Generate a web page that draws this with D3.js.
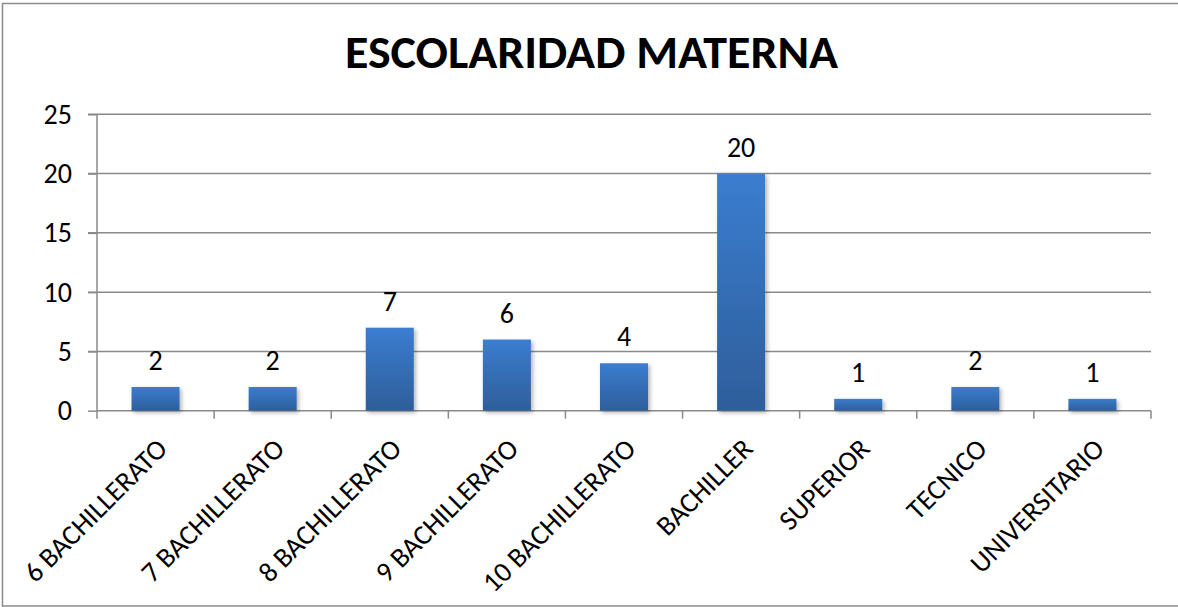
<!DOCTYPE html>
<html>
<head>
<meta charset="utf-8">
<script src="https://cdn.jsdelivr.net/npm/d3@7"></script>
<style>
  body { margin: 0; background: #fff; }
  svg { display: block; font-family: Carlito, Calibri, Lato, sans-serif; }
</style>
</head>
<body>
<svg id="graph"></svg>
<script>
const categories = ['6 BACHILLERATO', '7 BACHILLERATO', '8 BACHILLERATO', '9 BACHILLERATO',
  '10 BACHILLERATO', 'BACHILLER', 'SUPERIOR', 'TECNICO', 'UNIVERSITARIO']
const values = [2, 2, 7, 6, 4, 20, 1, 2, 1]
const yTicks = [0, 5, 10, 15, 20, 25]
const title = 'ESCOLARIDAD MATERNA'

const width = 1178
const height = 607
const labelSize = 28

let svg = d3.select('#graph')
  .attr('width', width)
  .attr('height', height)

let defs = svg.append('defs')

let grad = defs.append('linearGradient')
  .attr('id', 'barFill')
  .attr('x1', 0).attr('y1', 0)
  .attr('x2', 0).attr('y2', 1)
grad.append('stop').attr('offset', '0%').attr('stop-color', '#3b7dd0')
grad.append('stop').attr('offset', '100%').attr('stop-color', '#2e5e9a')

let shadow = defs.append('filter')
  .attr('id', 'barShadow')
  .attr('x', '-20%').attr('y', '-20%')
  .attr('width', '150%').attr('height', '150%')
shadow.append('feDropShadow')
  .attr('dx', 2).attr('dy', 2)
  .attr('stdDeviation', 2)
  .attr('flood-color', '#000')
  .attr('flood-opacity', 0.3)

// outer chart border (right side runs off the picture)
svg.append('rect')
  .attr('x', 2.5).attr('y', 3.5)
  .attr('width', 1190).attr('height', 602.5)
  .attr('fill', 'none')
  .attr('stroke', '#8c8c8c')
  .attr('stroke-width', 1.5)

const plotLeft = 97
const plotRight = 1151
const plotTop = 114.3
const plotBottom = 410.7

let x = d3.scaleBand()
  .domain(categories)
  .range([plotLeft, plotRight])
  .paddingInner(0.59)
  .paddingOuter(0.295)

let y = d3.scaleLinear()
  .domain([0, 25])
  .range([plotBottom, plotTop])

svg.append('text')
  .attr('x', 591.5)
  .attr('y', 68)
  .attr('text-anchor', 'middle')
  .attr('font-size', 46)
  .attr('font-weight', 'bold')
  .attr('textLength', 493)
  .attr('lengthAdjust', 'spacingAndGlyphs')
  .attr('fill', '#000')
  .text(title)

// gridlines
svg.append('g')
  .selectAll('line')
  .data(yTicks.filter(t => t > 0))
  .enter().append('line')
  .attr('x1', plotLeft - 9)
  .attr('x2', plotRight)
  .attr('y1', d => y(d))
  .attr('y2', d => y(d))
  .attr('stroke', '#8a8a8a')
  .attr('stroke-width', 1.5)

// y axis
let yAxis = d3.axisLeft(y)
  .tickValues(yTicks)
  .tickSize(9)
  .tickPadding(16)
let yg = svg.append('g')
  .attr('transform', `translate(${plotLeft},0)`)
  .call(yAxis)
yg.select('.domain').remove()
yg.selectAll('.tick line')
  .attr('stroke', '#8a8a8a')
  .attr('stroke-width', 1.5)
yg.selectAll('.tick text')
  .attr('font-size', labelSize)
  .attr('font-family', 'Carlito, Calibri, Lato, sans-serif')
  .attr('fill', '#000')
svg.append('line')
  .attr('x1', plotLeft).attr('x2', plotLeft)
  .attr('y1', plotTop).attr('y2', plotBottom + 8)
  .attr('stroke', '#8a8a8a')
  .attr('stroke-width', 1.5)

// x axis line and tick marks between categories
svg.append('line')
  .attr('x1', plotLeft).attr('x2', plotRight)
  .attr('y1', plotBottom).attr('y2', plotBottom)
  .attr('stroke', '#8a8a8a')
  .attr('stroke-width', 1.5)
let boundaries = categories.map(c => x(c) - x.step() * x.paddingInner() / 2).slice(1)
boundaries.push(plotRight)
svg.append('g')
  .selectAll('line')
  .data(boundaries)
  .enter().append('line')
  .attr('x1', d => d).attr('x2', d => d)
  .attr('y1', plotBottom).attr('y2', plotBottom + 8)
  .attr('stroke', '#8a8a8a')
  .attr('stroke-width', 1.5)

// bars
svg.append('g')
  .selectAll('rect')
  .data(values)
  .enter().append('rect')
  .attr('x', (d, i) => x(categories[i]))
  .attr('y', d => y(d))
  .attr('width', x.bandwidth())
  .attr('height', d => y(0) - y(d))
  .attr('fill', 'url(#barFill)')
  .attr('filter', 'url(#barShadow)')

// value labels
svg.append('g')
  .selectAll('text')
  .data(values)
  .enter().append('text')
  .attr('x', (d, i) => x(categories[i]) + x.bandwidth() / 2)
  .attr('y', d => y(d) - 17)
  .attr('text-anchor', 'middle')
  .attr('font-size', labelSize)
  .attr('fill', '#000')
  .text(d => d)

// category labels, rotated
svg.append('g')
  .selectAll('text')
  .data(categories)
  .enter().append('text')
  .attr('transform', d => `translate(${x(d) + x.bandwidth() / 2 + 7},444) rotate(-45)`)
  .attr('dy', '0.32em')
  .attr('text-anchor', 'end')
  .attr('font-size', labelSize)
  .attr('fill', '#000')
  .text(d => d)
</script>
</body>
</html>
